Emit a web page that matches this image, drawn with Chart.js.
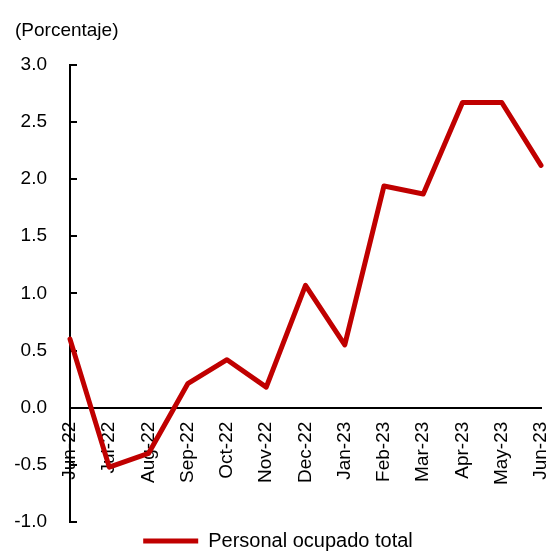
<!DOCTYPE html>
<html>
<head>
<meta charset="utf-8">
<script src="https://cdn.jsdelivr.net/npm/chart.js@4"></script>
<style>
  html, body { margin: 0; padding: 0; background: #fff; }
  #wrap { width: 554px; height: 552px; }
</style>
</head>
<body>
<div id="wrap"><canvas id="grafico" width="554" height="552"></canvas></div>
<script>
const meses = ["Jun-22", "Jul-22", "Aug-22", "Sep-22", "Oct-22", "Nov-22", "Dec-22",
  "Jan-23", "Feb-23", "Mar-23", "Apr-23", "May-23", "Jun-23"];
const personalOcupado = [0.60, -0.52, -0.40, 0.21, 0.42, 0.18, 1.07, 0.55, 1.94, 1.87, 2.67, 2.67, 2.12];
const serieNombre = "Personal ocupado total";
const titulo = "(Porcentaje)";

Chart.defaults.font.family = "'Liberation Sans', Arial, sans-serif";
Chart.defaults.color = "#000";

const grafico = document.getElementById("grafico");

// la leyenda ocupa solo 30px abajo
const alturaLeyenda = {
  id: "alturaLeyenda",
  afterInit(chart) {
    const lg = chart.legend;
    if (!lg) return;
    const fitOriginal = lg.fit;
    lg.fit = function () {
      fitOriginal.call(this);
      this.height = 30;
    };
  }
};

new Chart(grafico, {
  type: "line",
  data: {
    labels: meses,
    datasets: [{
      label: serieNombre,
      data: personalOcupado,
      borderColor: "#C00000",
      backgroundColor: "#C00000",
      borderWidth: 5,
      borderCapStyle: "round",
      borderJoinStyle: "round",
      pointRadius: 0,
      pointStyle: "line",
      tension: 0,
      clip: false
    }]
  },
  plugins: [alturaLeyenda],
  options: {
    responsive: false,
    animation: false,
    layout: { padding: { left: 15, right: 13, top: 0, bottom: 0 } },
    plugins: {
      title: {
        display: true,
        text: titulo,
        align: "start",
        color: "#000",
        font: { size: 19, weight: "normal" },
        padding: { top: 19, bottom: 23 }
      },
      legend: {
        position: "bottom",
        labels: {
          usePointStyle: true,
          pointStyleWidth: 55,
          boxHeight: 20,
          color: "#000",
          font: { size: 20 },
          padding: 9
        }
      },
      tooltip: { enabled: false }
    },
    scales: {
      x: {
        position: { y: 0 },
        offset: false,
        afterFit: (scale) => { scale.paddingLeft = 0; scale.paddingRight = 0; },
        grid: { display: true, drawOnChartArea: false, drawTicks: false },
        border: { display: true, color: "#000", width: 2 },
        ticks: {
          autoSkip: false,
          minRotation: 90,
          maxRotation: 90,
          padding: 14,
          color: "#000",
          font: { size: 19 }
        }
      },
      y: {
        min: -1,
        max: 3,
        afterFit: (scale) => {
          scale.width = 55;
          scale.paddingTop = 11;
          scale.paddingBottom = 11;
        },
        grid: {
          display: true,
          drawOnChartArea: false,
          drawTicks: true,
          tickLength: -7,
          color: "#000",
          lineWidth: 2
        },
        border: { display: true, color: "#000", width: 2 },
        ticks: {
          stepSize: 0.5,
          padding: 30,
          color: "#000",
          font: { size: 19 },
          callback: (v) => Number(v).toFixed(1)
        }
      }
    }
  }
});
</script>
</body>
</html>
